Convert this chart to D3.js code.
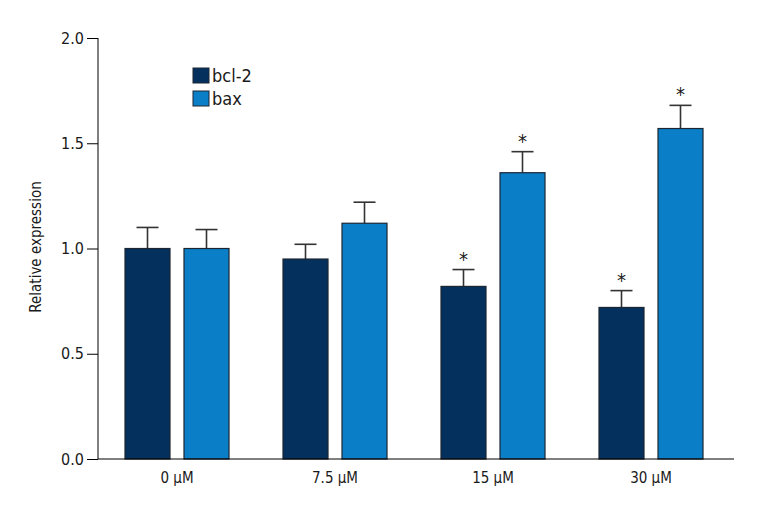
<!DOCTYPE html>
<html>
<head>
<meta charset="utf-8">
<script src="https://cdn.jsdelivr.net/npm/d3@7"></script>
<style>
  body { margin: 0; background: #fff; }
  svg text { font-family: "Liberation Sans Narrow", "DejaVu Sans Condensed", sans-serif; fill: #1a1a1a; }
</style>
</head>
<body>
<svg id="chart" width="760" height="520"></svg>
<script>
const margin = { top: 38, right: 26, bottom: 61, left: 98 };
const width = 760 - margin.left - margin.right;
const height = 520 - margin.top - margin.bottom;

var doses = ['0 μM', '7.5 μM', '15 μM', '30 μM']
var series = ['bcl-2', 'bax']
var bcl2Values = [1.00, 0.95, 0.82, 0.72]
var bcl2Errors = [0.10, 0.07, 0.08, 0.08]
var baxValues = [1.00, 1.12, 1.36, 1.57]
var baxErrors = [0.09, 0.10, 0.10, 0.11]
var bcl2Star = [false, false, true, true]
var baxStar = [false, false, true, true]
var yTicks = [0, 0.5, 1.0, 1.5, 2.0]

var colorMap = new Map()
colorMap.set(series[0], '#03305c')
colorMap.set(series[1], '#0a7ec6')

var rows = []
for (let i = 0; i < doses.length; i++) {
    rows.push({ dose: doses[i], key: series[0], value: bcl2Values[i], err: bcl2Errors[i], star: bcl2Star[i] })
    rows.push({ dose: doses[i], key: series[1], value: baxValues[i], err: baxErrors[i], star: baxStar[i] })
}

var svg = d3.select('#chart')
var g = svg.append('g')
    .attr('transform', 'translate(' + margin.left + ',' + margin.top + ')')

// band per dose, then the two bars inside it
var xScale = d3.scaleBand()
    .domain(doses)
    .range([0, width - 4])

var barW = 45
var innerGap = 14
var xInner = d3.scaleOrdinal()
    .domain(series)
    .range([(xScale.bandwidth() - 2 * barW - innerGap) / 2, (xScale.bandwidth() + innerGap) / 2])

var yScale = d3.scaleLinear()
    .domain([0, 2])
    .range([height, 0])

var bars = g.selectAll('.bar')
    .data(rows)
    .join('g')
    .attr('class', 'bar')
    .attr('transform', d => 'translate(' + (xScale(d.dose) + xInner(d.key)) + ',0)')

// error bars first so the bar covers the lower half
bars.append('line')
    .attr('x1', barW / 2)
    .attr('x2', barW / 2)
    .attr('y1', d => yScale(d.value))
    .attr('y2', d => yScale(d.value + d.err))
    .attr('stroke', '#333')
    .attr('stroke-width', 1.6)

bars.append('line')
    .attr('x1', barW / 2 - 11)
    .attr('x2', barW / 2 + 11)
    .attr('y1', d => yScale(d.value + d.err))
    .attr('y2', d => yScale(d.value + d.err))
    .attr('stroke', '#333')
    .attr('stroke-width', 1.6)

bars.append('rect')
    .attr('x', 0)
    .attr('width', barW)
    .attr('y', d => yScale(d.value))
    .attr('height', d => height - yScale(d.value))
    .attr('fill', d => colorMap.get(d.key))
    .attr('stroke', '#1c2633')
    .attr('stroke-width', 1.2)

bars.filter(d => d.star)
    .append('text')
    .attr('x', barW / 2)
    .attr('y', d => yScale(d.value + d.err) - 4)
    .attr('text-anchor', 'middle')
    .style('font-size', '20px')
    .text('*')

// axes
const yAxis = d3.axisLeft(yScale)
    .tickValues(yTicks)
    .tickFormat(d3.format('.1f'))
    .tickSize(11)
    .tickPadding(3)

g.append('g')
    .attr('id', 'y-axis')
    .call(yAxis)
    .call(a => a.selectAll('text').style('font-size', '16px'))
    .call(a => a.select('.domain').attr('d', 'M0,' + height + 'V0'))

g.append('line')
    .attr('x1', 0)
    .attr('x2', width)
    .attr('y1', height)
    .attr('y2', height)
    .attr('stroke', '#000')

g.append('g')
    .selectAll('text')
    .data(doses)
    .join('text')
    .attr('x', d => xScale(d) + xScale.bandwidth() / 2)
    .attr('y', height + 24)
    .attr('text-anchor', 'middle')
    .style('font-size', '15px')
    .text(d => d)

svg.append('text')
    .attr('transform', 'translate(' + 41 + ',' + (margin.top + 209) + ') rotate(-90)')
    .attr('text-anchor', 'middle')
    .style('font-size', '15px')
    .text('Relative expression')

// legend
var legend = svg.append('g')
    .attr('transform', 'translate(193,68)')

legend.selectAll('rect')
    .data(series)
    .join('rect')
    .attr('x', 0)
    .attr('y', (d, i) => i * 23)
    .attr('width', 16)
    .attr('height', 15)
    .attr('fill', d => colorMap.get(d))
    .attr('stroke', '#1c2633')

legend.selectAll('text')
    .data(series)
    .join('text')
    .attr('x', 19)
    .attr('y', (d, i) => i * 23 + 14)
    .style('font-size', '18px')
    .text(d => d)
</script>
</body>
</html>
